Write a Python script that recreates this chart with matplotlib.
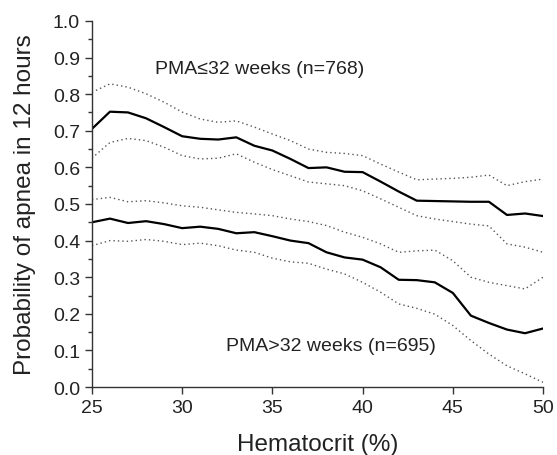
import numpy as np
import matplotlib.pyplot as plt
from matplotlib.ticker import MultipleLocator

# Hematocrit (%) grid
hct = [25, 26, 27, 28, 29, 30, 31, 32, 33, 34, 35, 36, 37,
       38, 39, 40, 41, 42, 43, 44, 45, 46, 47, 48, 49, 50]

# PMA <= 32 weeks (n=768)
young_mean = [0.705, 0.752, 0.750, 0.734, 0.710, 0.685, 0.678, 0.676, 0.682,
              0.659, 0.646, 0.623, 0.598, 0.600, 0.588, 0.587, 0.561, 0.534,
              0.509, 0.508, 0.507, 0.506, 0.506, 0.470, 0.474, 0.467]
young_hi = [0.805, 0.828, 0.819, 0.801, 0.778, 0.751, 0.732, 0.723, 0.727,
            0.710, 0.691, 0.673, 0.650, 0.641, 0.638, 0.632, 0.609, 0.587,
            0.566, 0.568, 0.570, 0.573, 0.579, 0.550, 0.561, 0.568]
young_lo = [0.625, 0.668, 0.679, 0.673, 0.655, 0.632, 0.623, 0.625, 0.637,
            0.614, 0.594, 0.577, 0.560, 0.555, 0.550, 0.536, 0.514, 0.491,
            0.468, 0.459, 0.452, 0.445, 0.440, 0.391, 0.382, 0.368]

# PMA > 32 weeks (n=695)
old_mean = [0.450, 0.460, 0.448, 0.453, 0.445, 0.434, 0.438, 0.432, 0.420,
            0.423, 0.412, 0.400, 0.393, 0.368, 0.354, 0.348, 0.327, 0.293,
            0.292, 0.286, 0.257, 0.195, 0.175, 0.157, 0.147, 0.160]
old_hi = [0.512, 0.518, 0.506, 0.509, 0.503, 0.495, 0.491, 0.484, 0.477,
          0.473, 0.468, 0.459, 0.452, 0.441, 0.423, 0.409, 0.391, 0.368,
          0.372, 0.374, 0.345, 0.300, 0.286, 0.277, 0.268, 0.300]
old_lo = [0.386, 0.400, 0.398, 0.403, 0.398, 0.389, 0.393, 0.386, 0.374,
          0.368, 0.352, 0.342, 0.338, 0.322, 0.309, 0.286, 0.259, 0.227,
          0.215, 0.199, 0.168, 0.127, 0.090, 0.058, 0.036, 0.013]

plt.rcParams['font.family'] = ['Liberation Sans', 'DejaVu Sans']

fig = plt.figure(figsize=(5.57, 4.56), dpi=100)
ax = fig.add_axes([0.165, 0.149, 0.81, 0.803])

dot = dict(color='#555555', lw=1.0, linestyle=(0, (1, 2.2)))
for lo, mid, hi in [(young_lo, young_mean, young_hi), (old_lo, old_mean, old_hi)]:
    ax.plot(hct, hi, **dot)
    ax.plot(hct, lo, **dot)
    ax.plot(hct, mid, color='black', lw=1.6)

ax.text(34.3, 0.869, 'PMA\u226432 weeks (n=768)', ha='center', va='center',
        fontsize=14, color='#222222')
ax.text(38.25, 0.113, 'PMA>32 weeks (n=695)', ha='center', va='center',
        fontsize=14, color='#222222')

ax.set_xlim(25, 50)
ax.set_ylim(0, 1.0)
ax.xaxis.set_major_locator(MultipleLocator(5))
ax.yaxis.set_major_locator(MultipleLocator(0.1))
ax.yaxis.set_minor_locator(MultipleLocator(0.05))
ax.yaxis.set_major_formatter(plt.FormatStrFormatter('%.1f'))
ax.spines['top'].set_visible(False)
ax.spines['right'].set_visible(False)
for s in ('left', 'bottom'):
    ax.spines[s].set_color('#333333')
    ax.spines[s].set_linewidth(1.0)
ax.tick_params(axis='both', which='major', length=5, width=1.0, color='#333333',
               labelsize=14, direction='out', labelcolor='#222222')
ax.tick_params(axis='y', which='minor', length=3, width=1.0, color='#333333')
ax.set_xlabel('Hematocrit (%)', fontsize=17.5, labelpad=12, color='#222222')
ax.set_ylabel('Probability of apnea in 12 hours', fontsize=17.5, labelpad=12,
              color='#222222')

fig.savefig('out.png', dpi=100)
